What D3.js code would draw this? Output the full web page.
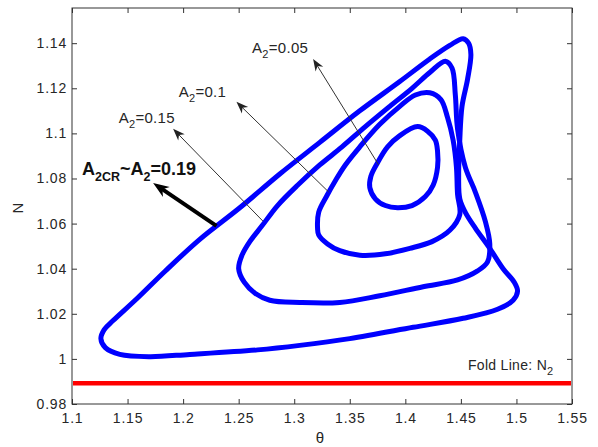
<!DOCTYPE html>
<html>
<head>
<meta charset="utf-8">
<title>Limit cycles near the fold line</title>
<script src="https://cdn.jsdelivr.net/npm/d3@7"></script>
<style>
body { margin: 0; background: #fff; }
svg text { font-family: Arial, "Liberation Sans", Helvetica, sans-serif; fill: #262626; }
.tick text { font-size: 14px; letter-spacing: 0.8px; }
.tick line { stroke: #333; }
.cycle { fill: none; stroke: #0000ff; stroke-width: 5; stroke-linejoin: round; }
</style>
</head>
<body>
<div id="chart"></div>
<script>
var width = 598, height = 447;
var margin = {top: 8, right: 26, bottom: 43, left: 72};

// axis ticks
var xTicks = [1.1, 1.15, 1.2, 1.25, 1.3, 1.35, 1.4, 1.45, 1.5, 1.55];
var xTickLabels = ["1.1", "1.15", "1.2", "1.25", "1.3", "1.35", "1.4", "1.45", "1.5", "1.55"];
var yTicks = [0.98, 1, 1.02, 1.04, 1.06, 1.08, 1.1, 1.12, 1.14];
var yTickLabels = ["0.98", "1", "1.02", "1.04", "1.06", "1.08", "1.1", "1.12", "1.14"];

// closed orbits [theta, N], one per A2
var cycleA005 = [[1.411,1.103],[1.420,1.101],[1.427,1.097],[1.429,1.092],[1.429,1.085],[1.425,1.077],
  [1.418,1.072],[1.406,1.068],[1.393,1.067],[1.382,1.068],[1.373,1.071],[1.368,1.076],[1.369,1.081],
  [1.375,1.087],[1.384,1.094],[1.395,1.099]];
var cycleA01 = [[1.321,1.058],[1.322,1.065],[1.329,1.072],[1.337,1.079],[1.346,1.086],[1.359,1.094],
  [1.377,1.104],[1.395,1.112],[1.409,1.117],[1.422,1.118],[1.432,1.115],[1.438,1.107],[1.443,1.097],
  [1.446,1.085],[1.447,1.073],[1.449,1.064],[1.440,1.057],[1.424,1.052],[1.404,1.049],[1.382,1.0466],
  [1.359,1.046],[1.341,1.048],[1.330,1.051],[1.322,1.055]];
var cycleA015 = [[1.436,1.132],[1.442,1.129],[1.445,1.117],[1.447,1.102],[1.454,1.085],[1.463,1.074],
  [1.472,1.061],[1.476,1.051],[1.474,1.043],[1.465,1.039],[1.447,1.035],[1.416,1.032],[1.377,1.028],
  [1.341,1.025],[1.305,1.025],[1.278,1.026],[1.265,1.029],[1.255,1.034],[1.250,1.040],[1.253,1.046],
  [1.260,1.052],[1.271,1.059],[1.285,1.068],[1.303,1.077],[1.323,1.086],[1.343,1.094],[1.364,1.103],
  [1.386,1.112],[1.406,1.120],[1.422,1.127]];
var cycleA019 = [[1.452,1.142],[1.457,1.140],[1.459,1.135],[1.456,1.124],[1.451,1.112],[1.449,1.097],
  [1.448,1.082],[1.449,1.071],[1.454,1.065],[1.463,1.058],[1.476,1.049],[1.488,1.040],[1.498,1.034],
  [1.501,1.030],[1.497,1.026],[1.483,1.022],[1.452,1.018],[1.407,1.014],[1.350,1.009],[1.305,1.006],
  [1.267,1.004],[1.206,1.002],[1.170,1.001],[1.143,1.002],[1.130,1.005],[1.126,1.009],[1.129,1.013],
  [1.137,1.017],[1.159,1.027],[1.184,1.039],[1.215,1.053],[1.251,1.067],[1.287,1.082],[1.323,1.096],
  [1.359,1.110],[1.395,1.123],[1.422,1.133],[1.440,1.139]];
var cycles = [cycleA005, cycleA01, cycleA015, cycleA019];

var foldN = 0.9892;

// annotations: label anchor and arrow [tail -> tip], data units
var arrowTails = [[1.376,1.086],[1.331,1.074],[1.272,1.061],[1.230,1.059]];
var arrowTips  = [[1.317,1.133],[1.248,1.114],[1.191,1.102],[1.173,1.078]];
var labelAnchors = [[1.262,1.1356],[1.196,1.1163],[1.142,1.1045],[1.109,1.0816]];
var labelValues = ["0.05", "0.1", "0.15", "0.19"];

var svg = d3.select("#chart").append("svg")
  .attr("width", width)
  .attr("height", height);

var x = d3.scaleLinear().domain([1.1, 1.55]).range([margin.left, width - margin.right]);
var y = d3.scaleLinear().domain([0.98, 1.1556]).range([height - margin.bottom, margin.top]);

var x0 = x.range()[0], x1 = x.range()[1], y0 = y.range()[0], y1 = y.range()[1];

// axes
svg.append("g")
  .attr("transform", "translate(0," + y0 + ")")
  .call(d3.axisBottom(x).tickValues(xTicks).tickSizeInner(-5).tickSizeOuter(0).tickPadding(9)
    .tickFormat(function(d, i) { return xTickLabels[i]; }));
svg.append("g")
  .attr("transform", "translate(0," + y1 + ")")
  .call(d3.axisTop(x).tickValues(xTicks).tickSizeInner(-5).tickSizeOuter(0).tickFormat(""));
svg.append("g")
  .attr("transform", "translate(" + x0 + ",0)")
  .call(d3.axisLeft(y).tickValues(yTicks).tickSizeInner(-5).tickSizeOuter(0).tickPadding(5)
    .tickFormat(function(d, i) { return yTickLabels[i]; }));
svg.append("g")
  .attr("transform", "translate(" + x1 + ",0)")
  .call(d3.axisRight(y).tickValues(yTicks).tickSizeInner(-5).tickSizeOuter(0).tickFormat(""));
svg.selectAll(".domain").remove();

svg.append("rect")
  .attr("x", x0).attr("y", y1)
  .attr("width", x1 - x0).attr("height", y0 - y1)
  .attr("fill", "none").attr("stroke", "#333").attr("stroke-width", 1);

// fold line
svg.append("line")
  .attr("x1", x0 + 1).attr("x2", x1 - 1)
  .attr("y1", y(foldN)).attr("y2", y(foldN))
  .attr("stroke", "#ff0000").attr("stroke-width", 4.5);

// cycles
var line = d3.line()
  .x(function(d) { return x(d[0]); })
  .y(function(d) { return y(d[1]); })
  .curve(d3.curveCatmullRomClosed.alpha(0.5));

svg.selectAll(".cycle")
  .data(cycles)
  .enter().append("path")
  .attr("class", "cycle")
  .attr("d", line);

// arrows
function drawArrow(tail, tip, lw, headLen, headW) {
  var tx = x(tail[0]), ty = y(tail[1]), hx = x(tip[0]), hy = y(tip[1]);
  var dx = hx - tx, dy = hy - ty, len = Math.sqrt(dx * dx + dy * dy);
  var ux = dx / len, uy = dy / len, nx = -uy, ny = ux;
  svg.append("line")
    .attr("x1", tx).attr("y1", ty)
    .attr("x2", hx - ux * headLen * 0.6).attr("y2", hy - uy * headLen * 0.6)
    .attr("stroke", lw > 2 ? "#000" : "#333").attr("stroke-width", lw);
  var pts = [
    [hx, hy],
    [hx - ux * headLen + nx * headW / 2, hy - uy * headLen + ny * headW / 2],
    [hx - ux * headLen * 0.7, hy - uy * headLen * 0.7],
    [hx - ux * headLen - nx * headW / 2, hy - uy * headLen - ny * headW / 2]
  ];
  svg.append("path")
    .attr("d", "M" + pts.map(function(p) { return p.join(","); }).join("L") + "Z")
    .attr("fill", lw > 2 ? "#000" : "#222");
}

for (var i = 0; i < 3; i++) drawArrow(arrowTails[i], arrowTips[i], 1, 12, 9);
drawArrow(arrowTails[3], arrowTips[3], 4, 16, 12);

// labels
for (var i = 0; i < 3; i++) {
  var t = svg.append("text")
    .attr("x", x(labelAnchors[i][0])).attr("y", y(labelAnchors[i][1]))
    .style("font-size", "15px").style("letter-spacing", "0.3px");
  t.append("tspan").text("A");
  t.append("tspan").attr("dy", 5).style("font-size", "11px").text("2");
  t.append("tspan").attr("dy", -5).text("=" + labelValues[i]);
}
var tb = svg.append("text")
  .attr("x", x(labelAnchors[3][0])).attr("y", y(labelAnchors[3][1]))
  .style("font-size", "18px").style("font-weight", "bold").style("fill", "#111");
tb.append("tspan").text("A");
tb.append("tspan").attr("dy", 6).style("font-size", "12.5px").text("2CR");
tb.append("tspan").attr("dy", -6).text("~A");
tb.append("tspan").attr("dy", 6).style("font-size", "12.5px").text("2");
tb.append("tspan").attr("dy", -6).text("=" + labelValues[3]);

var tf = svg.append("text")
  .attr("x", x(1.4564)).attr("y", y(0.9951))
  .style("font-size", "14px").style("letter-spacing", "0.3px");
tf.append("tspan").text("Fold Line: N");
tf.append("tspan").attr("dy", 5).style("font-size", "11px").text("2");

// axis titles
svg.append("text")
  .attr("x", (x0 + x1) / 2 - 2).attr("y", 443)
  .attr("text-anchor", "middle").style("font-size", "15px")
  .text("θ");
svg.append("text")
  .attr("transform", "translate(23," + ((y0 + y1) / 2 + 2) + ") rotate(-90)")
  .attr("text-anchor", "middle").style("font-size", "15px")
  .text("N");
</script>
</body>
</html>
